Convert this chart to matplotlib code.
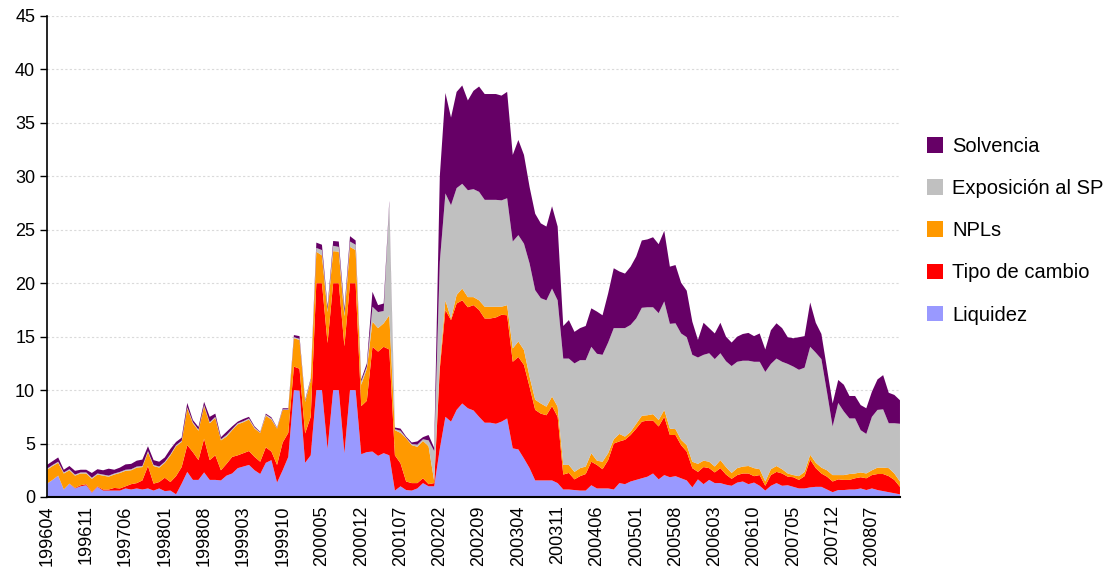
import matplotlib
matplotlib.use("Agg")
import matplotlib.pyplot as plt
import numpy as np
import pandas as pd

plt.rcParams['font.family'] = ['Liberation Sans', 'DejaVu Sans']

# monthly categories 199604 .. 200812
meses = list(pd.period_range("1996-04", "2008-12", freq="M").strftime("%Y%m"))

liquidez = [
    1.25, 1.6, 2.0, 0.7, 1.25, 0.8, 1.0, 1.1, 0.4, 0.95,
    0.6, 0.6, 0.6, 0.6, 0.8, 0.7, 0.8, 0.7, 0.8, 0.6,
    0.8, 0.55, 0.6, 0.25, 1.25, 2.35, 1.6, 1.6, 2.3, 1.6,
    1.6, 1.55, 2.0, 2.2, 2.7, 2.85, 3.0, 2.5, 2.15, 3.2,
    3.45, 1.35, 2.5, 3.75, 10.0, 9.95, 3.2, 3.9, 10.0, 10.0,
    4.5, 10.0, 10.0, 4.1, 10.0, 10.0, 4.0, 4.2, 4.25, 3.85,
    4.1, 3.9, 0.6, 1.0, 0.65, 0.6, 0.8, 1.3, 1.0, 1.0,
    4.5, 7.5, 7.05, 8.15, 8.75, 8.3, 8.1, 7.5, 6.95, 6.95,
    6.85, 7.05, 7.35, 4.55, 4.45, 3.6, 2.7, 1.55, 1.55, 1.55,
    1.55, 1.3, 0.7, 0.7, 0.65, 0.6, 0.6, 1.1, 0.8, 0.8,
    0.8, 0.7, 1.3, 1.2, 1.45, 1.6, 1.75, 1.9, 2.2, 1.65,
    2.05, 1.85, 1.95, 1.75, 1.55, 0.9, 1.65, 1.2, 1.6, 1.3,
    1.3, 1.15, 1.05, 1.35, 1.45, 1.2, 1.35, 1.05, 0.6, 1.05,
    1.3, 1.05, 1.1, 0.95, 0.8, 0.8, 0.9, 0.95, 0.95, 0.7,
    0.45, 0.65, 0.65, 0.7, 0.7, 0.8, 0.65, 0.8, 0.65, 0.55,
    0.45, 0.35, 0.25]

tipo_cambio = [
    0.0, 0.0, 0.0, 0.0, 0.0, 0.05, 0.1, 0.1, 0.05, 0.05,
    0.1, 0.1, 0.25, 0.2, 0.2, 0.5, 0.5, 0.85, 2.1, 0.65,
    0.6, 1.25, 0.8, 1.7, 1.55, 2.5, 2.6, 1.85, 3.15, 1.85,
    2.3, 0.95, 1.1, 1.55, 1.2, 1.25, 1.3, 1.25, 1.15, 1.45,
    0.8, 1.65, 2.6, 2.25, 2.2, 2.05, 2.75, 3.6, 10.0, 10.0,
    9.9, 10.0, 10.0, 10.0, 10.0, 10.0, 4.5, 4.8, 9.8, 9.75,
    9.95, 9.9, 3.3, 2.15, 0.8, 0.7, 0.5, 0.45, 0.2, 0.3,
    7.5, 10.0, 9.5, 9.95, 9.65, 9.45, 9.85, 10.0, 9.75, 9.75,
    9.95, 10.0, 9.65, 8.1, 8.65, 8.75, 7.6, 6.6, 6.25, 6.1,
    6.95, 6.2, 1.4, 1.55, 1.0, 1.35, 1.55, 2.2, 2.2, 1.8,
    2.65, 4.3, 3.9, 4.15, 4.35, 4.8, 5.3, 5.25, 4.95, 4.95,
    5.45, 3.95, 3.85, 3.1, 2.7, 1.8, 0.7, 1.6, 1.1, 1.0,
    1.4, 0.95, 0.65, 0.7, 0.75, 1.0, 0.6, 1.0, 0.45, 1.0,
    1.05, 1.15, 0.8, 0.9, 0.8, 1.15, 2.6, 1.75, 1.25, 1.2,
    1.0, 1.0, 0.95, 0.9, 1.05, 1.05, 1.1, 1.25, 1.5, 1.6,
    1.5, 1.25, 0.7]

npls = [
    1.3, 1.3, 1.2, 1.5, 1.25, 1.15, 1.1, 1.0, 1.25, 1.1,
    1.3, 1.2, 1.25, 1.45, 1.45, 1.3, 1.45, 1.25, 1.3, 1.65,
    1.35, 1.4, 2.5, 2.8, 2.35, 3.45, 2.7, 2.75, 3.05, 3.45,
    3.5, 2.8, 2.55, 2.5, 2.9, 2.9, 2.95, 2.65, 2.7, 2.95,
    3.0, 3.4, 3.05, 2.15, 2.65, 2.7, 2.95, 3.4, 2.95, 2.6,
    2.9, 3.0, 2.95, 2.8, 3.4, 3.1, 2.0, 3.0, 2.35, 2.2,
    2.2, 3.2, 2.35, 2.85, 4.05, 3.55, 3.4, 3.5, 3.55, 0.2,
    0.5, 0.9, 0.15, 0.8, 1.1, 0.95, 0.75, 0.9, 1.1, 1.1,
    1.0, 0.75, 0.95, 1.25, 1.45, 1.4, 0.95, 0.95, 0.95, 0.8,
    0.9, 0.95, 0.9, 0.75, 0.7, 0.75, 0.7, 0.8, 0.4, 0.7,
    0.65, 0.4, 0.7, 0.3, 0.3, 0.45, 0.55, 0.5, 0.6, 0.6,
    0.65, 0.6, 0.55, 0.5, 0.6, 0.6, 0.75, 0.6, 0.6, 0.55,
    0.75, 0.7, 0.55, 0.65, 0.65, 0.7, 0.75, 0.55, 0.4, 0.55,
    0.55, 0.4, 0.3, 0.2, 0.35, 0.4, 0.45, 0.5, 0.55, 0.6,
    0.6, 0.4, 0.45, 0.55, 0.45, 0.45, 0.45, 0.45, 0.6, 0.6,
    0.75, 0.6, 0.5]

exposicion_sp = [
    0.1, 0.1, 0.1, 0.1, 0.1, 0.1, 0.1, 0.1, 0.1, 0.1,
    0.1, 0.1, 0.1, 0.1, 0.1, 0.1, 0.1, 0.1, 0.1, 0.1,
    0.1, 0.1, 0.1, 0.1, 0.1, 0.1, 0.1, 0.1, 0.1, 0.1,
    0.1, 0.1, 0.15, 0.1, 0.1, 0.1, 0.1, 0.1, 0.05, 0.1,
    0.1, 0.05, 0.05, 0.05, 0.1, 0.1, 0.1, 0.1, 0.35, 0.5,
    0.2, 0.5, 0.45, 0.3, 0.5, 0.5, 0.3, 0.2, 1.4, 1.5,
    1.15, 10.5, 0.1, 0.2, 0.05, 0.1, 0.2, 0.15, 0.55, 2.8,
    9.5, 10.0, 10.6, 10.0, 9.8, 10.0, 10.1, 10.15, 10.0, 10.0,
    10.0, 9.95, 10.0, 10.0, 9.95, 9.95, 10.6, 10.25, 9.85, 9.95,
    10.1, 9.95, 9.95, 9.95, 10.15, 10.1, 9.95, 9.95, 10.0, 10.0,
    10.35, 10.4, 9.9, 10.15, 10.0, 9.85, 10.1, 10.1, 10.0, 10.0,
    10.15, 9.8, 9.9, 9.95, 10.1, 10.0, 9.95, 9.9, 10.15, 10.05,
    10.0, 9.9, 10.0, 9.95, 9.9, 9.85, 9.95, 10.05, 10.25, 9.85,
    10.05, 10.05, 10.25, 10.15, 9.95, 9.75, 10.1, 10.3, 10.15, 7.3,
    4.55, 6.75, 5.95, 5.2, 5.15, 3.95, 3.7, 5.0, 5.4, 5.45,
    4.2, 4.7, 5.4]

solvencia = [
    0.35, 0.35, 0.4, 0.25, 0.3, 0.35, 0.25, 0.25, 0.45, 0.4,
    0.4, 0.65, 0.35, 0.4, 0.5, 0.5, 0.55, 0.6, 0.45, 0.45,
    0.45, 0.4, 0.5, 0.3, 0.3, 0.4, 0.2, 0.25, 0.3, 0.5,
    0.3, 0.2, 0.3, 0.25, 0.15, 0.2, 0.15, 0.1, 0.05, 0.1,
    0.1, 0.05, 0.1, 0.1, 0.2, 0.25, 0.1, 0.1, 0.5, 0.5,
    0.3, 0.45, 0.5, 0.4, 0.5, 0.4, 0.2, 0.3, 1.4, 0.65,
    0.7, 0.2, 0.15, 0.2, 0.1, 0.15, 0.3, 0.2, 0.5, 0.3,
    8.0, 9.4, 8.2, 9.0, 9.2, 8.4, 9.2, 9.85, 9.9, 9.9,
    9.9, 9.8, 9.95, 8.1, 8.9, 8.3, 7.15, 7.15, 7.0, 6.9,
    7.7, 6.9, 3.05, 3.6, 2.95, 3.0, 3.2, 3.6, 3.95, 3.7,
    4.6, 5.6, 5.3, 5.1, 5.45, 5.8, 6.3, 6.35, 6.55, 6.45,
    6.6, 5.35, 5.45, 4.75, 4.35, 3.1, 1.65, 3.0, 2.35, 2.4,
    2.85, 2.3, 2.2, 2.35, 2.5, 2.6, 2.4, 2.65, 2.1, 3.15,
    3.3, 3.15, 2.5, 2.65, 3.05, 2.95, 4.15, 2.8, 2.35, 2.2,
    2.15, 2.15, 2.5, 2.1, 2.1, 2.35, 2.4, 2.35, 2.85, 3.2,
    2.85, 2.65, 2.2]

series = ["Liquidez", "Tipo de cambio", "NPLs", "Exposición al SP", "Solvencia"]
colores = ["#9999FF", "#FF0000", "#FF9900", "#C0C0C0", "#660066"]


def plot_chart():
    fig = plt.figure(figsize=(11.13, 5.71), dpi=100)
    ax = fig.add_axes([0.0422, 0.1296, 0.7664, 0.8424])

    x = np.arange(len(meses))
    polys = ax.stackplot(x, liquidez, tipo_cambio, npls, exposicion_sp, solvencia,
                         colors=colores, labels=series, linewidth=0)

    ax.set_xlim(0, len(meses) - 1)
    ax.set_ylim(0, 45)
    ax.set_yticks(np.arange(0, 46, 5))
    ax.yaxis.grid(True, color="#dadada", linestyle=(0, (2, 2)), linewidth=0.8)
    ax.set_axisbelow(True)

    ax.set_xticks(x[::7])
    ax.set_xticklabels(meses[::7], rotation=90)
    ax.tick_params(axis="x", length=0, pad=6, labelsize=13)
    ax.tick_params(axis="y", length=5, width=1, direction="out", labelsize=13)

    for side in ["top", "right"]:
        ax.spines[side].set_visible(False)
    ax.spines["left"].set_linewidth(1.2)
    ax.spines["bottom"].set_linewidth(1.5)

    # legend in reverse stacking order, outside on the right
    handles = polys[::-1]
    labels = series[::-1]
    fig.legend(handles, labels, loc="center left", bbox_to_anchor=(0.8165, 0.596),
               frameon=False, fontsize=14.5, handlelength=0.8, handleheight=0.8,
               handletextpad=0.45, labelspacing=1.15)

    fig.savefig("out.png", dpi=100)


def main():
    plot_chart()


if __name__ == "__main__":
    main()
